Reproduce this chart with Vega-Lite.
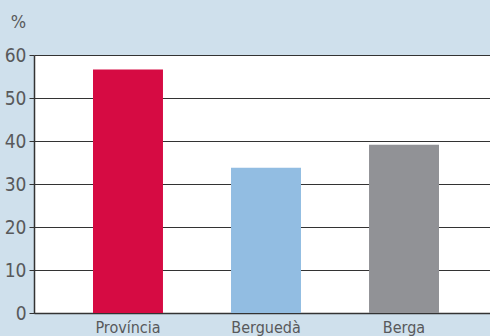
{
  "$schema": "https://vega.github.io/schema/vega-lite/v6.json",
  "width": 464,
  "height": 258,
  "autosize": "none",
  "padding": {"left": 34, "top": 55, "right": 0, "bottom": 23},
  "background": "#cfe0ec",
  "view": {"fill": "white", "stroke": null},
  "data": {
    "values": [
      {"zona": "Província", "valor": 56.6},
      {"zona": "Berguedà", "valor": 33.8},
      {"zona": "Berga", "valor": 39.1}
    ]
  },
  "mark": {"type": "bar"},
  "encoding": {
    "x": {
      "field": "zona",
      "type": "nominal",
      "sort": null,
      "scale": {"paddingInner": 0.493, "paddingOuter": 0.4275},
      "axis": {
        "title": null,
        "labelAngle": 0,
        "ticks": false,
        "domain": true,
        "domainColor": "#333333",
        "domainWidth": 1.5,
        "labelFontSize": 16,
        "labelColor": "#58595b",
        "labelFont": "DejaVu Sans Condensed, Liberation Sans",
        "labelPadding": 6
      }
    },
    "y": {
      "field": "valor",
      "type": "quantitative",
      "scale": {"domain": [0, 60]},
      "axis": {
        "values": [0, 10, 20, 30, 40, 50, 60],
        "title": "%",
        "titleAngle": 0,
        "titleX": -16,
        "titleY": -33,
        "titleAlign": "center",
        "titleBaseline": "middle",
        "titleFont": "DejaVu Sans Condensed, Liberation Sans",
        "titleFontSize": 18,
        "titleFontWeight": "normal",
        "titleColor": "#58595b",
        "grid": true,
        "gridColor": "#333333",
        "gridWidth": 1,
        "domain": true,
        "domainColor": "#333333",
        "domainWidth": 1.5,
        "ticks": true,
        "tickSize": 5,
        "tickColor": "#333333",
        "labelFont": "DejaVu Sans Condensed, Liberation Sans",
        "labelFontSize": 19,
        "labelColor": "#58595b",
        "labelPadding": 3
      }
    },
    "color": {
      "field": "zona",
      "type": "nominal",
      "scale": {
        "domain": ["Província", "Berguedà", "Berga"],
        "range": ["#d60b43", "#92bde2", "#919296"]
      },
      "legend": null
    }
  }
}
